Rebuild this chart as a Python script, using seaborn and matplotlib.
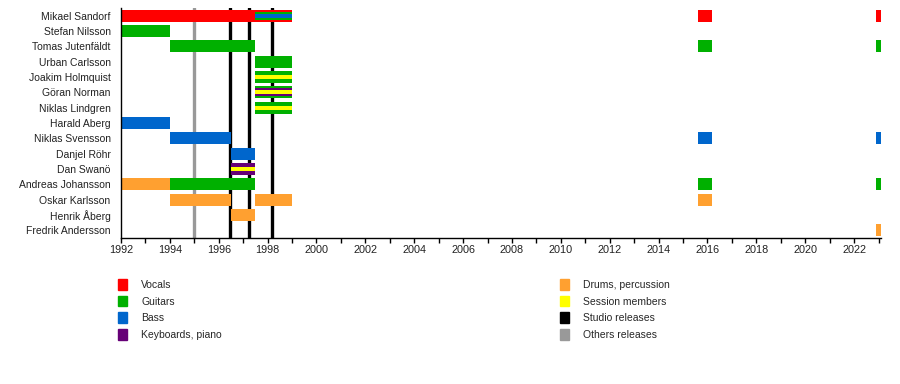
import matplotlib
matplotlib.use("Agg")
import matplotlib.pyplot as plt
import matplotlib.patches as mpatches
from matplotlib.ticker import MultipleLocator
import seaborn as sns

# membres du groupe (de haut en bas)
members = ["Mikael Sandorf", "Stefan Nilsson", "Tomas Jutenfäldt", "Urban Carlsson",
           "Joakim Holmquist", "Göran Norman", "Niklas Lindgren", "Harald Aberg",
           "Niklas Svensson", "Danjel Röhr", "Dan Swanö", "Andreas Johansson",
           "Oskar Karlsson", "Henrik Åberg", "Fredrik Andersson"]

# périodes : membre, début, fin, rôle, couche (0 = barre pleine, 1 / 2 = bandes internes)
span_member = ["Mikael Sandorf", "Mikael Sandorf", "Mikael Sandorf", "Mikael Sandorf", "Mikael Sandorf", "Mikael Sandorf",
               "Stefan Nilsson",
               "Tomas Jutenfäldt", "Tomas Jutenfäldt", "Tomas Jutenfäldt",
               "Urban Carlsson",
               "Joakim Holmquist", "Joakim Holmquist",
               "Göran Norman", "Göran Norman", "Göran Norman",
               "Niklas Lindgren", "Niklas Lindgren",
               "Harald Aberg",
               "Niklas Svensson", "Niklas Svensson", "Niklas Svensson",
               "Danjel Röhr",
               "Dan Swanö", "Dan Swanö",
               "Andreas Johansson", "Andreas Johansson", "Andreas Johansson", "Andreas Johansson",
               "Oskar Karlsson", "Oskar Karlsson", "Oskar Karlsson",
               "Henrik Åberg",
               "Fredrik Andersson"]
span_start = [1992, 1997.5, 1997.5, 1997.5, 2015.6, 2022.9,
              1992,
              1994, 2015.6, 2022.9,
              1997.5,
              1997.5, 1997.5,
              1997.5, 1997.5, 1997.5,
              1997.5, 1997.5,
              1992,
              1994, 2015.6, 2022.9,
              1996.5,
              1996.5, 1996.5,
              1992, 1994, 2015.6, 2022.9,
              1994, 1997.5, 2015.6,
              1996.5,
              2022.9]
span_end = [1997.5, 1999, 1999, 1999, 2016.2, 2023.1,
            1994,
            1997.5, 2016.2, 2023.1,
            1999,
            1999, 1999,
            1999, 1999, 1999,
            1999, 1999,
            1994,
            1996.5, 2016.2, 2023.1,
            1997.5,
            1997.5, 1997.5,
            1994, 1997.5, 2016.2, 2023.1,
            1996.5, 1999, 2016.2,
            1997.5,
            2023.1]
span_role = ["Vocals", "Vocals", "Guitars", "Bass", "Vocals", "Vocals",
             "Guitars",
             "Guitars", "Guitars", "Guitars",
             "Guitars",
             "Guitars", "Session members",
             "Guitars", "Keyboards, piano", "Session members",
             "Guitars", "Session members",
             "Bass",
             "Bass", "Bass", "Bass",
             "Bass",
             "Keyboards, piano", "Session members",
             "Drums, percussion", "Guitars", "Guitars", "Guitars",
             "Drums, percussion", "Drums, percussion", "Drums, percussion",
             "Drums, percussion",
             "Drums, percussion"]
span_layer = [0, 0, 1, 2, 0, 0,
              0,
              0, 0, 0,
              0,
              0, 2,
              0, 1, 2,
              0, 2,
              0,
              0, 0, 0,
              0,
              0, 2,
              0, 0, 0, 0,
              0, 0, 0,
              0,
              0]

# sorties
studio_releases = [1996.45, 1997.22, 1998.17]
other_releases = [1995.0]

# légende
legend_labels = ["Vocals", "Guitars", "Bass", "Keyboards, piano",
                 "Drums, percussion", "Session members", "Studio releases", "Others releases"]

couleurs = {"Vocals": "#ff0000", "Guitars": "#00b000", "Bass": "#0066cc",
            "Keyboards, piano": "#660077", "Drums, percussion": "#ffa030",
            "Session members": "#ffff00", "Studio releases": "#000000",
            "Others releases": "#999999"}
hauteurs = {0: 0.78, 1: 0.52, 2: 0.26}

sns.set_theme(style="white")
plt.rcParams["font.family"] = ["Liberation Sans", "DejaVu Sans"]

fig = plt.figure(figsize=(9, 3.84), dpi=100)
ax = fig.add_axes([121 / 900, 1 - 238 / 384, 760 / 900, 230 / 384])

# lignes verticales (derrière les barres)
for x in studio_releases:
    ax.axvline(x, color=couleurs["Studio releases"], lw=2.4, zorder=1)
for x in other_releases:
    ax.axvline(x, color=couleurs["Others releases"], lw=2.4, zorder=1)

ypos = {m: i for i, m in enumerate(members)}
for m, d, f, r, c in zip(span_member, span_start, span_end, span_role, span_layer):
    ax.barh(ypos[m], f - d, left=d, height=hauteurs[c], color=couleurs[r],
            linewidth=0, zorder=2 + c)

ax.set_xlim(1992, 2023.1)
ax.set_ylim(len(members) - 0.5, -0.5)
ax.set_yticks(range(len(members)))
ax.set_yticklabels(members)
ax.xaxis.set_major_locator(MultipleLocator(2))
ax.xaxis.set_minor_locator(MultipleLocator(1))
ax.tick_params(axis="x", which="both", bottom=True, direction="out", length=3.5,
               width=1, color="black", labelsize=7.8, pad=1.5)
ax.tick_params(axis="y", left=False, length=0, labelsize=7.5, pad=7.5)
for lab in ax.get_xticklabels() + ax.get_yticklabels():
    lab.set_color("#222222")
sns.despine(ax=ax, top=True, right=True)
ax.spines["left"].set_color("black")
ax.spines["bottom"].set_color("black")
ax.spines["left"].set_linewidth(1)
ax.spines["bottom"].set_linewidth(1)
ax.grid(False)

# légende en deux colonnes
poignees = [mpatches.Patch(color=couleurs[l], label=l) for l in legend_labels]
for k, xpos in enumerate([114 / 900, 556 / 900]):
    leg = fig.legend(handles=poignees[4 * k:4 * k + 4], loc="upper left",
                     bbox_to_anchor=(xpos, 1 - 275 / 384), frameon=False,
                     fontsize=7.5, handlelength=0.8, handleheight=1.2,
                     handletextpad=1.4, labelspacing=0.55, borderaxespad=0)

fig.savefig("out.png", dpi=100)
